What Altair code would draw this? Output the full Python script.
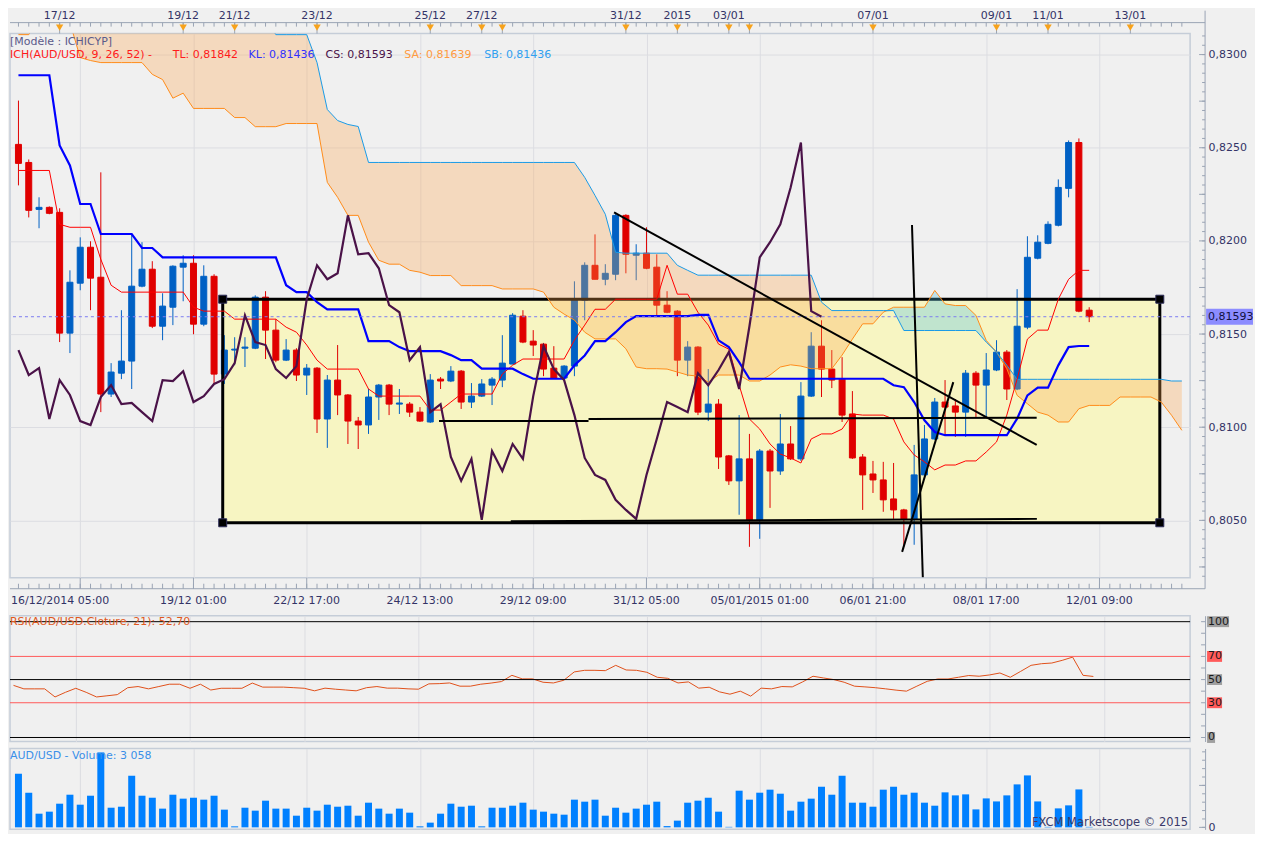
import altair as alt
import pandas as pd

# ---------------- data ----------------
opens = [.82518, .82421, .82169, .82180, .82153, .81505, .81773, .81966, .81805, .81178,
         .81290, .81355, .81757, .81848, .81542, .81644, .81859, .81880, .81553, .81810,
         .81285, .81414, .81424, .81424, .81698, .81521, .81360, .81414, .81280, .81317,
         .81044, .81253, .81173, .81033, .81012, .81162, .81226, .81124, .81124, .81081,
         .81028, .81258, .81248, .81301, .81135, .81167, .81226, .81253, .81339, .81596,
         .81462, .81446, .81317, .81264, .81328, .81682, .81869, .81794, .81821, .82137,
         .81923, .81934, .81859, .81655, .81623, .81360, .81430, .81081, .81124, .80846,
         .80712, .80830, .80503, .80872, .80765, .80910, .80830, .81167, .81435, .81312,
         .81258, .81071, .80840, .80749, .80717, .80615, .80556, .80508, .80744, .80937,
         .81135, .81114, .81081, .81290, .81226, .81307, .81403, .81205, .81537, .81907,
         .81987, .82084, .82282, .82528, .81628]
highs = [.82753, .82437, .82234, .82185, .82175, .81842, .82019, .81998, .82368, .81344,
         .81628, .82035, .81993, .81891, .81719, .81869, .81923, .81923, .81869, .81821,
         .81494, .81483, .81483, .81708, .81730, .81580, .81473, .81424, .81339, .81323,
         .81280, .81441, .81178, .81055, .81205, .81232, .81232, .81205, .81135, .81108,
         .81285, .81269, .81328, .81307, .81237, .81258, .81269, .81494, .81612, .81628,
         .81521, .81451, .81435, .81333, .81783, .81885, .82035, .81875, .82153, .82143,
         .81982, .82073, .81928, .81730, .81628, .81462, .81435, .81312, .81151, .80851,
         .81065, .80964, .80883, .80883, .81071, .81006, .81242, .81510, .81574, .81414,
         .81376, .81194, .80856, .80819, .80814, .80808, .80562, .80905, .81012, .81157,
         .81253, .81151, .81307, .81301, .81398, .81467, .81414, .81741, .82025, .82030,
         .82105, .82330, .82539, .82550, .81644]
lows = [.82298, .82126, .82068, .82143, .81457, .81398, .81735, .81628, .81081, .81162,
        .81258, .81205, .81751, .81532, .81467, .81548, .81676, .81499, .81542, .81232,
        .81232, .81333, .81323, .81419, .81366, .81349, .81355, .81248, .81173, .80969,
        .80889, .81065, .80910, .80883, .80964, .81039, .81065, .81071, .81055, .81028,
        .81023, .81205, .81242, .81098, .81103, .81162, .81119, .81215, .81339, .81451,
        .81382, .81274, .81264, .81258, .81274, .81574, .81794, .81762, .81789, .81826,
        .81789, .81848, .81601, .81612, .81274, .81274, .81065, .81033, .80776, .80690,
        .80530, .80358, .80401, .80567, .80744, .80824, .80819, .81162, .81162, .81210,
        .81028, .80830, .80556, .80647, .80546, .80508, .80358, .80369, .80739, .80932,
        .80953, .80948, .80948, .81055, .81055, .81301, .81146, .81199, .81526, .81901,
        .81982, .82078, .82234, .81617, .81564]
closes = [.82416, .82164, .82180, .82148, .81505, .81778, .81966, .81800, .81178, .81296,
          .81355, .81757, .81848, .81542, .81650, .81864, .81880, .81553, .81810, .81285,
          .81414, .81419, .81430, .81698, .81521, .81360, .81414, .81280, .81317, .81044,
          .81253, .81173, .81033, .81012, .81162, .81226, .81124, .81130, .81081, .81033,
          .81253, .81248, .81301, .81135, .81167, .81232, .81258, .81344, .81601, .81457,
          .81441, .81312, .81264, .81328, .81687, .81869, .81794, .81826, .82137, .81928,
          .81934, .81853, .81655, .81617, .81360, .81430, .81081, .81124, .80840, .80712,
          .80830, .80503, .80872, .80765, .80910, .80830, .81167, .81435, .81312, .81253,
          .81065, .80835, .80744, .80717, .80610, .80556, .80508, .80744, .80937, .81135,
          .81108, .81081, .81290, .81226, .81307, .81403, .81205, .81542, .81912, .81993,
          .82089, .82287, .82528, .81623, .81593]
tenkan = [.82378, .82378, .82378, .82378, .82089, .82073, .82073, .82073, .81901, .81762,
          .81725, .81725, .81725, .81725, .81725, .81725, .81725, .81644, .81623, .81623,
          .81623, .81580, .81580, .81580, .81580, .81580, .81537, .81510, .81441, .81360,
          .81312, .81312, .81312, .81312, .81205, .81167, .81167, .81167, .81167, .81167,
          .81092, .81092, .81135, .81178, .81178, .81178, .81178, .81285, .81333, .81366,
          .81366, .81366, .81366, .81366, .81467, .81548, .81633, .81633, .81687, .81687,
          .81687, .81687, .81687, .81869, .81714, .81714, .81617, .81548, .81446, .81419,
          .81226, .81044, .80990, .80910, .80856, .80835, .80808, .80937, .80964, .80964,
          .80990, .81071, .81065, .81065, .81065, .81044, .80921, .80851, .80814, .80771,
          .80797, .80797, .80819, .80819, .80867, .80921, .81065, .81258, .81473, .81521,
          .81521, .81687, .81794, .81842, .81842]
kijun = [.82889, .82889, .82889, .82889, .82512, .82405, .82198, .82198, .82037, .82037,
         .82037, .82037, .81962, .81962, .81912, .81912, .81912, .81912, .81912, .81912,
         .81912, .81912, .81912, .81912, .81912, .81912, .81762, .81725, .81725, .81671,
         .81632, .81632, .81632, .81632, .81462, .81462, .81462, .81430, .81408, .81408,
         .81408, .81408, .81387, .81360, .81360, .81314, .81314, .81314, .81314, .81285,
         .81260, .81260, .81260, .81260, .81332, .81385, .81462, .81462, .81510, .81564,
         .81596, .81596, .81596, .81596, .81596, .81596, .81603, .81603, .81466, .81430,
         .81349, .81260, .81260, .81260, .81260, .81260, .81260, .81260, .81260, .81260,
         .81260, .81260, .81260, .81260, .81260, .81225, .81215, .81135, .81037, .80974,
         .80957, .80957, .80957, .80957, .80957, .80957, .80957, .81046, .81171, .81212,
         .81212, .81332, .81430, .81436, .81436]
senkou_a = [.83107, .83107, .83198, .83198, .83198, .83171, .82984, .82968, .82957, .82957,
            .82957, .82957, .82957, .82894, .82866, .82766, .82793, .82711, .82711, .82711,
            .82711, .82662, .82662, .82613, .82613, .82613, .82630, .82630, .82630, .82630,
            .82314, .82234, .82137, .82137, .81993, .81896, .81875, .81875, .81842, .81832,
            .81814, .81814, .81814, .81760, .81760, .81760, .81760, .81742, .81742, .81742,
            .81742, .81725, .81644, .81607, .81575, .81510, .81474, .81474, .81474, .81421,
            .81323, .81314, .81314, .81312, .81296, .81280, .81274, .81242, .81280, .81280,
            .81280, .81248, .81248, .81280, .81323, .81335, .81328, .81314, .81314, .81314,
            .81387, .81473, .81555, .81555, .81617, .81644, .81644, .81644, .81644, .81734,
            .81662, .81653, .81653, .81600, .81466, .81403, .81314, .81171, .81126, .81081,
            .81065, .81028, .81028, .81099, .81117, .81117, .81117, .81162, .81162, .81162,
            .81162, .81135, .81064, .80983]
senkou_b = [.83198, .83198, .83198, .83198, .83198, .83198, .83198, .83198, .83198, .83198,
            .83198, .83198, .83198, .83198, .83198, .83198, .83198, .83198, .83198, .83198,
            .83198, .83198, .83198, .83198, .83198, .83107, .83107, .83107, .83107, .82957,
            .82705, .82646, .82625, .82614, .82421, .82421, .82421, .82421, .82421, .82421,
            .82421, .82421, .82421, .82421, .82421, .82421, .82421, .82421, .82421, .82421,
            .82421, .82421, .82421, .82421, .82421, .82341, .82244, .82143, .81939, .81934,
            .81934, .81934, .81934, .81934, .81869, .81842, .81816, .81816, .81816, .81816,
            .81816, .81816, .81816, .81816, .81816, .81816, .81816, .81816, .81671, .81626,
            .81626, .81626, .81626, .81626, .81626, .81626, .81519, .81519, .81519, .81519,
            .81519, .81519, .81519, .81519, .81457, .81403, .81333, .81257, .81257, .81257,
            .81257, .81257, .81257, .81257, .81257, .81257, .81257, .81257, .81257, .81257,
            .81257, .81257, .81248, .81248]
rsi = [45, 42, 42, 42, 35, 39, 42.5, 39, 35, 36,
       37, 43, 44, 42, 44, 46, 46, 42.5, 46, 41,
       42.5, 42.5, 42.5, 47, 43.5, 43.5, 43.5, 43, 42.5, 40.3,
       42.6, 41.7, 41, 40.3, 43, 44, 42.6, 42.6, 42, 41.7,
       46.3, 46.5, 47.1, 44.3, 44.3, 46, 47, 48.3, 53.7, 50.6,
       50.6, 47.7, 47.1, 49.4, 56.6, 58, 58, 57.7, 62.3, 58.3,
       58, 56.3, 52, 51.1, 47.1, 48, 42.6, 43.4, 39.4, 37.4,
       40, 35.7, 42.6, 42, 44, 43.7, 48, 52.9, 51.4, 50,
       47.7, 44.3, 43.7, 43, 42, 40.9, 40, 44.3, 48.5, 50.5,
       50.5, 52, 53.5, 52.9, 54, 55.7, 52, 57.1, 62.3, 63.7,
       64.3, 66.6, 69.4, 53.7, 52.7]
volumes = [6390, 4130, 1630, 1870, 2820, 3890, 2700, 3770, 8930, 2340,
           2460, 6150, 3770, 3530, 2230, 3890, 3420, 3530, 3300, 3770,
           2110, 120, 2340, 1990, 3180, 2230, 2230, 1390, 2340, 1990,
           2700, 2460, 2580, 1390, 2940, 2230, 1630, 2230, 1750, 120,
           560, 1630, 2820, 2460, 2580, 120, 2340, 2340, 2580, 2940,
           2110, 1870, 1630, 1510, 3300, 3060, 3300, 1390, 2340, 1750,
           2230, 2700, 3060, 150, 800, 2940, 3180, 3530, 1870, 60,
           4370, 3300, 4130, 4490, 4010, 1990, 3060, 3420, 4840, 3890,
           6150, 2940, 2940, 2460, 4490, 4840, 3890, 4130, 2940, 2580,
           4170, 3810, 3930, 2140, 3450, 3090, 3810, 5120, 6190, 3090,
           60, 2260, 2620, 4520, 60]

current_price = 0.81593

grid_idx = [6, 17, 28, 39, 50, 61, 72, 83, 94, 105]
bottom_labels = ["16/12/2014 05:00", "19/12 01:00", "22/12 17:00", "24/12 13:00", "29/12 09:00",
                 "31/12 05:00", "05/01/2015 01:00", "06/01 21:00", "08/01 17:00", "12/01 09:00"]
top_idx = [4, 16, 21, 29, 40, 45, 47, 59, 64, 69, 71, 83, 95, 100, 108]
top_labels = ["17/12", "19/12", "21/12", "23/12", "25/12", "27/12", "", "31/12", "2015",
              "03/01", "", "07/01", "09/01", "11/01", "13/01"]
price_ticks = [0.805, 0.810, 0.815, 0.820, 0.825, 0.830]
rsi_levels_black = [100, 50, 0]
rsi_levels_red = [70, 30]

box_x = [19.84, 110.86]
box_y = [0.80487, 0.81687]

tl_x1 = [57.85, 40.85, 55.37, 47.82, 86.79, 85.83]
tl_y1 = [0.82153, 0.81033, 0.81044, 0.80495, 0.82085, 0.80331]
tl_x2 = [98.90, 55.37, 98.90, 98.92, 87.84, 90.80]
tl_y2 = [0.80905, 0.81033, 0.81051, 0.80508, 0.80195, 0.81242]

# ---------------- layout / style ----------------
W, H = 1182, 545
RH, VH = 126, 81
FONT = "DejaVu Sans"
BLUE = "#0060c4"
RED = "#e00000"
AXC = "#9aa4b4"
TXT = "#333366"
GRID = "#dcdde2"

n = len(closes)
df = pd.DataFrame({"idx": list(range(n)), "open": opens, "high": highs, "low": lows,
                   "close": closes, "vol": volumes, "rsi": rsi,
                   "tenkan": tenkan, "kijun": kijun})
cloud = pd.DataFrame({"idx": list(range(len(senkou_a))), "sa": senkou_a, "sb": senkou_b})
chikou = pd.DataFrame({"idx": list(range(n - 26)), "cs": closes[26:]})

xs = alt.Scale(domain=[-0.3365, 113.317], nice=False, zero=False)
ys = alt.Scale(domain=[0.80192, 0.831125], nice=False, zero=False)
xaxis = alt.Axis(values=grid_idx, grid=True, gridColor=GRID, labels=False, ticks=False,
                 domain=False, title=None)
yaxis = alt.Axis(orient="right", values=price_ticks, offset=15, grid=True, gridColor=GRID,
                 ticks=False, domain=False,
                 labelExpr="replace(format(datum.value, '.4f'), '.', ',')",
                 labelFont=FONT, labelFontSize=11, labelColor=TXT, labelPadding=3, title=None)


def X(f):
    return alt.X(f, type="quantitative", scale=xs, axis=xaxis)


def Y(f):
    return alt.Y(f, type="quantitative", scale=ys, axis=yaxis)


def one():
    return alt.Chart(pd.DataFrame({"a": [0]}))


def label(text, x, y, color, size=11, align="left"):
    return alt.Chart(pd.DataFrame({"t": [text]})).mark_text(
        align=align, baseline="middle", font=FONT, fontSize=size, color=color
    ).encode(x=alt.value(x), y=alt.value(y), text="t:N")


dir_scale = alt.Scale(domain=["up", "down"], range=[BLUE, RED])
candles = alt.Chart(df).transform_calculate(dir="datum.close >= datum.open ? 'up' : 'down'")
wicks = candles.mark_rule(strokeWidth=1).encode(
    x=X("idx"), y=Y("low"), y2="high", color=alt.Color("dir:N", scale=dir_scale, legend=None))
bodies = candles.mark_bar(size=6, strokeWidth=1).encode(
    x=X("idx"), y=Y("open"), y2="close",
    color=alt.Color("dir:N", scale=dir_scale, legend=None),
    stroke=alt.Stroke("dir:N", scale=dir_scale, legend=None))

cl = alt.Chart(cloud).transform_calculate(lo="min(datum.sa, datum.sb)")
peach = cl.mark_area(color="#ffa64d", opacity=0.3, clip=True).encode(x=X("idx"), y=Y("sb"), y2="lo")
teal = cl.mark_area(color="#4fc1e9", opacity=0.32, clip=True).encode(x=X("idx"), y=Y("sa"), y2="lo")
sa_line = alt.Chart(cloud).mark_line(color="#ff8c1a", strokeWidth=1, clip=True).encode(x=X("idx"), y=Y("sa"))
sb_line = alt.Chart(cloud).mark_line(color="#1a9be6", strokeWidth=1, clip=True).encode(x=X("idx"), y=Y("sb"))
tk_line = alt.Chart(df).mark_line(color="#ff0000", strokeWidth=1).encode(x=X("idx"), y=Y("tenkan"))
kj_line = alt.Chart(df).mark_line(color="#0000ff", strokeWidth=2.2).encode(x=X("idx"), y=Y("kijun"))
cs_line = alt.Chart(chikou).mark_line(color="#4a1248", strokeWidth=2.2).encode(x=X("idx"), y=Y("cs"))

boxdf = pd.DataFrame({"x1": [box_x[0]], "x2": [box_x[1]], "y1": [box_y[0]], "y2": [box_y[1]]})
box_fill = alt.Chart(boxdf).mark_rect(color="#f7f5c2").encode(x=X("x1"), x2="x2", y=Y("y1"), y2="y2")
box_line = alt.Chart(boxdf).mark_rect(fillOpacity=0, stroke="black", strokeWidth=3).encode(
    x=X("x1"), x2="x2", y=Y("y1"), y2="y2")
corners = pd.DataFrame({"x": [box_x[0], box_x[1], box_x[0], box_x[1]],
                        "y": [box_y[0], box_y[0], box_y[1], box_y[1]]})
handles = alt.Chart(corners).mark_square(size=64, color="black", opacity=1, filled=True,
                                         stroke="#2c2c58", strokeWidth=1).encode(x=X("x"), y=Y("y"))

tldf = pd.DataFrame({"x1": tl_x1, "y1": tl_y1, "x2": tl_x2, "y2": tl_y2})
trend = alt.Chart(tldf).mark_rule(color="black", strokeWidth=2, clip=True).encode(
    x=X("x1"), y=Y("y1"), x2="x2", y2="y2")

pdf = pd.DataFrame({"p": [current_price], "t": [f"{current_price:.5f}".replace(".", ",")]})
cur_line = alt.Chart(pdf).mark_rule(color="#7b7bf0", strokeWidth=1, strokeDash=[3, 3]).encode(y=Y("p"))
pbox = alt.Chart(pdf).transform_calculate(b1="datum.p - 0.00043", b2="datum.p + 0.00043")
cur_box = pbox.mark_rect(color="#8c8cff").encode(x=alt.value(W + 16), x2=alt.value(W + 63),
                                                 y=Y("b1"), y2="b2")
cur_txt = pbox.mark_text(align="left", baseline="middle", font=FONT, fontSize=11,
                         color="#101040").encode(x=alt.value(W + 18), y=Y("p"), text="t:N")

# axis decorations of the main panel
minor_ticks = pd.DataFrame({"p": [round(0.8020 + 0.0005 * k, 4) for k in range(59)]})
mid_ticks = pd.DataFrame({"p": [round(0.8025 + 0.0025 * k, 4) for k in range(12)]})
r_minor = alt.Chart(minor_ticks).mark_rule(color=AXC, clip=False).encode(
    x=alt.value(W + 12), x2=alt.value(W + 15), y=Y("p"))
r_mid = alt.Chart(mid_ticks).mark_rule(color=AXC).encode(
    x=alt.value(W + 9), x2=alt.value(W + 15), y=Y("p"))
right_line = one().mark_rule(color=AXC).encode(x=alt.value(W + 15), y=alt.value(-23), y2=alt.value(556))
bottom_line = one().mark_rule(color=AXC).encode(x=alt.value(0), x2=alt.value(W + 15), y=alt.value(556))
top_line = one().mark_rule(color=AXC).encode(x=alt.value(0), x2=alt.value(W + 15), y=alt.value(-11))

cand_ticks = pd.DataFrame({"t": list(range(0, 114))})
b_minor = alt.Chart(cand_ticks).mark_rule(color=AXC).encode(x=X("t"), y=alt.value(551), y2=alt.value(556))
t_minor = alt.Chart(cand_ticks).mark_rule(color=AXC).encode(x=X("t"), y=alt.value(-11), y2=alt.value(-7))
b_major = alt.Chart(pd.DataFrame({"g": grid_idx})).mark_rule(color=AXC).encode(
    x=X("g"), y=alt.value(545), y2=alt.value(556))

blab = pd.DataFrame({"idx": grid_idx[1:], "lab": bottom_labels[1:]})
b_labels = alt.Chart(blab).mark_text(baseline="middle", font=FONT, fontSize=11, color=TXT).encode(
    x=X("idx"), y=alt.value(568), text="lab:N")
b_first = label(bottom_labels[0], 1, 568, TXT)

tdf = pd.DataFrame({"idx": top_idx, "lab": top_labels})
t_stem = alt.Chart(tdf).mark_rule(color=AXC).encode(x=X("idx"), y=alt.value(-11), y2=alt.value(0))
t_tri = alt.Chart(tdf).mark_point(shape="triangle-down", filled=True, size=55, color="#f7a21b",
                                  opacity=1).encode(x=X("idx"), y=alt.value(-6))
t_lab = alt.Chart(tdf).mark_text(baseline="middle", font=FONT, fontSize=11, color=TXT).encode(
    x=X("idx"), y=alt.value(-17.5), text="lab:N")

legend_layers = [
    label("[Modèle : ICHICYP]", 0, 8, "#5a5a8a"),
    label("ICH(AUD/USD, 9, 26, 52) -", 0, 21, "#ff1a1a"),
    label("TL: 0,81842", 163, 21, "#ff1a1a"),
    label("KL: 0,81436", 239, 21, "#3030ff"),
    label("CS: 0,81593", 316, 21, "#4a1248"),
    label("SA: 0,81639", 395, 21, "#ff9a40"),
    label("SB: 0,81436", 475, 21, "#30a0f0"),
]

main = alt.layer(
    box_fill, wicks, bodies, box_line, peach, teal, sa_line, sb_line, tk_line, kj_line, cs_line,
    cur_line, trend, handles, cur_box, cur_txt, r_minor, r_mid, right_line, bottom_line, top_line,
    b_minor, t_minor, b_major, b_labels, b_first, t_stem, t_tri, t_lab, *legend_layers
).properties(width=W, height=H)

# ---------------- RSI panel ----------------
ry = alt.Scale(domain=[-3.45, 105.17], nice=False, zero=False)
raxis = alt.Axis(orient="right", offset=15, labels=False, ticks=False, grid=False, domain=True,
                 domainColor=AXC, title=None)


def RY(f):
    return alt.Y(f, type="quantitative", scale=ry, axis=raxis)


rsi_line = alt.Chart(df).mark_line(color="#e0501a", strokeWidth=1).encode(x=X("idx"), y=RY("rsi"))
lv_black = alt.Chart(pd.DataFrame({"lv": rsi_levels_black})).mark_rule(color="black").encode(y=RY("lv"))
lv_red = alt.Chart(pd.DataFrame({"lv": rsi_levels_red})).mark_rule(color="#ff5a5a").encode(y=RY("lv"))


def rsi_box(levels, fill, width):
    d = pd.DataFrame({"lv": levels, "t": [str(v) for v in levels]})
    c = alt.Chart(d).transform_calculate(b1="datum.lv - 4.7", b2="datum.lv + 4.7")
    r = c.mark_rect(color=fill).encode(x=alt.value(W + 17), x2=alt.value(W + 17 + width),
                                       y=RY("b1"), y2="b2")
    t = c.mark_text(align="left", baseline="middle", font=FONT, fontSize=11,
                    color="#1a1a1a").encode(x=alt.value(W + 18), y=RY("lv"), text="t:N")
    return [r, t]


rsi_ticks = alt.Chart(pd.DataFrame({"v": list(range(0, 101, 10))})).mark_rule(color=AXC).encode(
    x=alt.value(W + 11), x2=alt.value(W + 15), y=RY("v"))

rsi_c = alt.layer(
    rsi_line, lv_black, lv_red,
    *rsi_box([100], "#a0a0a0", 22), *rsi_box([50], "#a0a0a0", 15), *rsi_box([0], "#a0a0a0", 8),
    *rsi_box([70, 30], "#ff5a5a", 15), rsi_ticks,
    label("RSI(AUD/USD.Cloture, 21): 52,70", 0, 6, "#e0581c"),
).properties(width=W, height=RH)

# ---------------- volume panel ----------------
vy = alt.Scale(domain=[-238, 9400], nice=False, zero=False)
vaxis = alt.Axis(orient="right", offset=15, values=[0], ticks=False, grid=False, domain=True,
                 domainColor=AXC, labelFont=FONT, labelFontSize=11, labelColor=TXT,
                 labelPadding=3, title=None)
bars = alt.Chart(df).mark_bar(size=7, color="#0080ff").encode(
    x=X("idx"), y=alt.Y("vol", type="quantitative", scale=vy, axis=vaxis), y2=alt.datum(0))
vt = pd.DataFrame({"v": list(range(0, 9001, 1000))})
v_minor = alt.Chart(vt).mark_rule(color=AXC).encode(x=alt.value(W + 12), x2=alt.value(W + 15),
                                                    y=alt.Y("v", type="quantitative", scale=vy, axis=vaxis))
v_major = alt.Chart(pd.DataFrame({"v": [0, 5000]})).mark_rule(color=AXC).encode(
    x=alt.value(W + 9), x2=alt.value(W + 15), y=alt.Y("v", type="quantitative", scale=vy, axis=vaxis))

vol_c = alt.layer(
    bars, v_minor, v_major,
    label("AUD/USD - Volume: 3 058", 0, 8, "#3a8fe8"),
    label("FXCM Marketscope © 2015", W - 2, 75, "#3a3a6a", size=11.5, align="right"),
).properties(width=W, height=VH)

chart = alt.vconcat(
    main,
    alt.vconcat(rsi_c, vol_c, spacing=7, bounds="flush"),
    spacing=38, bounds="flush",
).properties(padding=0, background="#f0f0f0").configure_view(stroke="#c5cdd8", strokeWidth=1.5)

chart.save("out.html", embed_options={"renderer": "svg", "actions": False})
